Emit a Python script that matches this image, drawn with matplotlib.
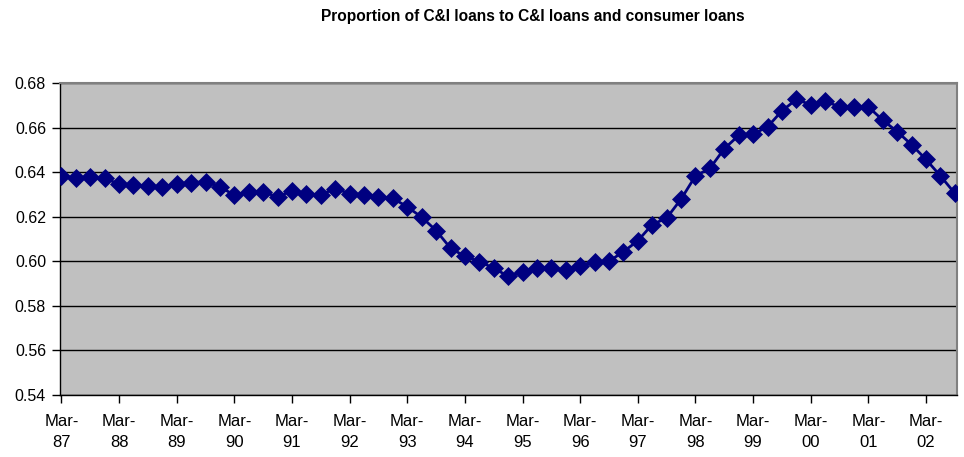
import matplotlib
matplotlib.use("Agg")
import matplotlib.pyplot as plt
import numpy as np

plt.rcParams['font.family'] = ['Liberation Sans', 'DejaVu Sans']

# quarterly values, Mar-87 .. Sep-02
ratio = [0.6382, 0.6375, 0.6378, 0.6372, 0.6347, 0.6343, 0.6338, 0.6334,
         0.6347, 0.6353, 0.6357, 0.6335, 0.6296, 0.6311, 0.6311, 0.6289,
         0.6317, 0.6302, 0.6299, 0.6326, 0.6304, 0.6298, 0.6289, 0.6283,
         0.6244, 0.6198, 0.6138, 0.6059, 0.6022, 0.5999, 0.5969, 0.5933,
         0.5951, 0.5970, 0.5970, 0.5961, 0.5980, 0.5995, 0.6000, 0.6043,
         0.6092, 0.6165, 0.6194, 0.6279, 0.6383, 0.6417, 0.6505, 0.6565,
         0.6571, 0.6603, 0.6675, 0.6726, 0.6703, 0.6718, 0.6693, 0.6693,
         0.6693, 0.6633, 0.6582, 0.6523, 0.6457, 0.6383, 0.6305]
years = ['87', '88', '89', '90', '91', '92', '93', '94', '95', '96',
         '97', '98', '99', '00', '01', '02']
x_labels = ['Mar-\n' + y for y in years]
y_ticks = [0.54, 0.56, 0.58, 0.60, 0.62, 0.64, 0.66, 0.68]

fig = plt.figure(figsize=(9.64, 4.57), dpi=100)
ax = fig.add_axes([60 / 964, 1 - 395 / 457, 897 / 964, 312 / 457])
ax.set_facecolor('#c0c0c0')

x = np.arange(len(ratio))
ax.plot(x, ratio, color='#000080', lw=2, marker='D', ms=9,
        markeredgewidth=0.5, zorder=3)

ax.set_ylim(0.54, 0.68)
ax.set_yticks(y_ticks)
ax.set_yticklabels([f'{v:.2f}' for v in y_ticks])
ax.set_xlim(-0.1, len(ratio) - 1 + 0.15)
ax.set_xticks(np.arange(len(years)) * 4)
ax.set_xticklabels(x_labels, linespacing=1.45)
ax.grid(axis='y', color='black', lw=1)
ax.set_axisbelow(True)

ax.tick_params(axis='both', direction='out', length=6, width=1,
               color='black', labelsize=11.5, pad=4)
ax.tick_params(axis='x', labelsize=12, pad=8)
for s in ['top', 'right']:
    ax.spines[s].set_color('#808080')
    ax.spines[s].set_linewidth(1.5)
for s in ['left', 'bottom']:
    ax.spines[s].set_color('black')
    ax.spines[s].set_linewidth(1)

fig.text(533 / 964, 1 - 17 / 457, 'Proportion of C&I loans to C&I loans and consumer loans',
         ha='center', va='center', fontsize=11.2, fontweight='bold')

fig.savefig('out.png', dpi=100)
